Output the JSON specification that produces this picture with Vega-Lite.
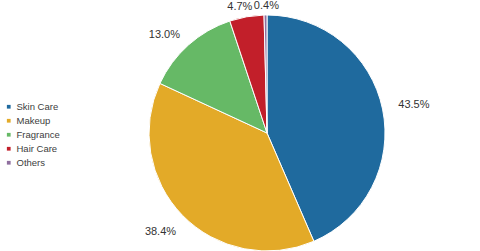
{
  "$schema": "https://vega.github.io/schema/vega-lite/v6.json",
  "autosize": "none",
  "width": 426,
  "height": 236,
  "padding": {"left": 54, "top": 15, "right": 0, "bottom": 0},
  "background": "white",
  "config": {"view": {"stroke": null}, "font": "Liberation Sans"},
  "data": {"values": [
    {"idx": 1, "category": "Skin Care", "share": 43.5, "label": "43.5%"},
    {"idx": 2, "category": "Makeup", "share": 38.4, "label": "38.4%"},
    {"idx": 3, "category": "Fragrance", "share": 13.0, "label": "13.0%"},
    {"idx": 4, "category": "Hair Care", "share": 4.7, "label": "4.7%"},
    {"idx": 5, "category": "Others", "share": 0.4, "label": "0.4%"}
  ]},
  "transform": [
    {"stack": "share", "groupby": [], "sort": [{"field": "idx", "order": "ascending"}], "as": ["s0", "s1"]},
    {"calculate": "(datum.s0 + datum.s1) / 2", "as": "mid"}
  ],
  "layer": [
    {
      "mark": {"type": "arc", "outerRadius": 118, "stroke": "white", "strokeWidth": 1},
      "encoding": {
        "theta": {"field": "s0", "type": "quantitative", "scale": {"domain": [0, 100]}},
        "theta2": {"field": "s1"},
        "color": {
          "field": "category",
          "type": "nominal",
          "sort": ["Skin Care", "Makeup", "Fragrance", "Hair Care", "Others"],
          "scale": {
            "domain": ["Skin Care", "Makeup", "Fragrance", "Hair Care", "Others"],
            "range": ["#1f6a9e", "#e3aa28", "#66b966", "#c21f2a", "#8f6f9f"]
          },
          "legend": {
            "title": null,
            "orient": "none",
            "legendX": -50,
            "legendY": 87,
            "padding": 0,
            "symbolType": "square",
            "symbolSize": 14,
            "symbolStrokeWidth": 0,
            "labelFontSize": 9.5,
            "labelColor": "#404040",
            "labelOffset": 3,
            "rowPadding": 3
          }
        }
      }
    },
    {
      "transform": [{"filter": "datum.category == 'Skin Care'"}],
      "mark": {"type": "text", "radius": 150, "dy": 2, "fontSize": 11, "color": "#333333", "baseline": "middle", "align": "center"},
      "encoding": {
        "theta": {"field": "mid", "type": "quantitative", "scale": {"domain": [0, 100]}},
        "text": {"field": "label"}
      }
    },
    {
      "transform": [{"filter": "datum.category == 'Makeup'"}],
      "mark": {"type": "text", "radius": 146, "dx": -2, "dy": -3, "fontSize": 11, "color": "#333333", "baseline": "middle", "align": "center"},
      "encoding": {
        "theta": {"field": "mid", "type": "quantitative", "scale": {"domain": [0, 100]}},
        "text": {"field": "label"}
      }
    },
    {
      "transform": [{"filter": "datum.category == 'Fragrance'"}],
      "mark": {"type": "text", "radius": 142, "dx": -8, "dy": 8, "fontSize": 11, "color": "#333333", "baseline": "middle", "align": "center"},
      "encoding": {
        "theta": {"field": "mid", "type": "quantitative", "scale": {"domain": [0, 100]}},
        "text": {"field": "label"}
      }
    },
    {
      "transform": [{"filter": "datum.category == 'Hair Care'"}],
      "mark": {"type": "text", "radius": 129, "dx": -5, "dy": 1, "fontSize": 11, "color": "#333333", "baseline": "middle", "align": "center"},
      "encoding": {
        "theta": {"field": "mid", "type": "quantitative", "scale": {"domain": [0, 100]}},
        "text": {"field": "label"}
      }
    },
    {
      "transform": [{"filter": "datum.category == 'Others'"}],
      "mark": {"type": "text", "radius": 128, "dx": 1, "dy": 1, "fontSize": 11, "color": "#333333", "baseline": "middle", "align": "center"},
      "encoding": {
        "theta": {"field": "mid", "type": "quantitative", "scale": {"domain": [0, 100]}},
        "text": {"field": "label"}
      }
    }
  ]
}
